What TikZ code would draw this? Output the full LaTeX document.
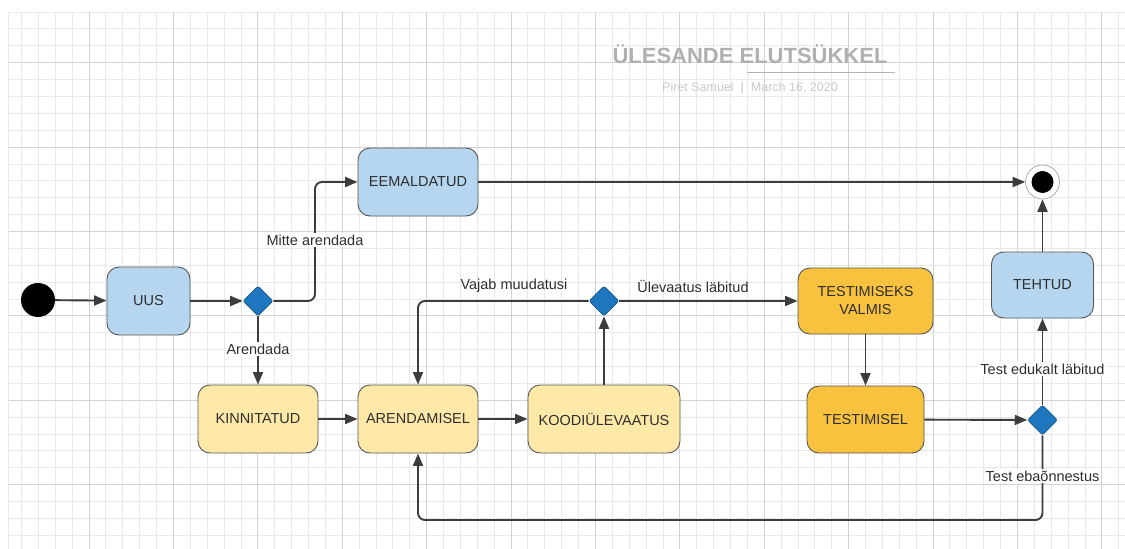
\documentclass[tikz,border=0pt]{standalone}
\usepackage{fontspec}
\setmainfont{Liberation Sans}
\usetikzlibrary{arrows.meta,shapes.geometric}

\definecolor{bluefill}{HTML}{B6D6F0}
\definecolor{yellowfill}{HTML}{FFE9A8}
\definecolor{orangefill}{HTML}{F8C23E}
\definecolor{decisionfill}{HTML}{1E76BE}
\definecolor{boxline}{HTML}{555555}
\definecolor{linkc}{HTML}{3C3C3C}
\definecolor{textc}{HTML}{2E2E2E}
\definecolor{gridminor}{HTML}{E8E8E8}
\definecolor{gridmajor}{HTML}{D2D2D2}

\tikzset{
  statebox/.style={draw=boxline, line width=0.9pt, rounded corners=12pt,
    minimum height=68pt, align=center, inner sep=0pt, text=textc,
    font=\fontsize{14.5}{18}\selectfont},
  bluestate/.style={statebox, fill=bluefill},
  yellowstate/.style={statebox, fill=yellowfill},
  orangestate/.style={statebox, fill=orangefill},
  choice/.style={diamond, fill=decisionfill, draw=decisionfill!75!black,
    line width=0.6pt, minimum width=30pt, minimum height=30pt, inner sep=0pt,
    rounded corners=2pt},
  link/.style={draw=linkc, line width=1.9pt, rounded corners=7pt,
    -{Triangle[length=12.5pt,width=10pt]}},
  guard/.style={text=textc, font=\fontsize{14.5}{17}\selectfont, inner sep=2pt},
  guardbg/.style={guard, fill=white},
}

\begin{document}
\begin{tikzpicture}[x=1pt, y=-1pt]
  \useasboundingbox (0,0) rectangle (1125,549);
  \fill[white] (0,0) rectangle (1125,549);

  % background grid
  \begin{scope}
    \clip (8,12) rectangle (1125,549);
    \draw[gridminor, line width=0.8pt]
      \foreach \i in {0,...,66} {({4.6+\i*16.88},12) -- ++(0,537)}
      \foreach \j in {0,...,32} {(8,{12+\j*16.88}) -- ++(1117,0)};
    \draw[gridmajor, line width=0.9pt]
      \foreach \i in {0,...,12} {({89+\i*84.4},12) -- ++(0,537)}
      \foreach \j in {0,...,5} {(8,{62.7+\j*84.4}) -- ++(1117,0)};
    \draw[gridminor, line width=0.8pt] (8,12) -- (8,549);
  \end{scope}

  % heading
  \node[anchor=base, text=gray!62, font=\bfseries\fontsize{22}{26}\selectfont]
    (title) at (750,63) {ÜLESANDE ELUTSÜKKEL};
  \coordinate (ulA) at (747,72.7);
  \coordinate (ulB) at (895,72.7);
  \draw[gray!60, line width=1.2pt] (ulA) -- (ulB);
  \node[anchor=base, text=gray!42, font=\fontsize{12.5}{15}\selectfont]
    (byline) at (750,91.5) {Piret Samuel~~|~~March 16, 2020};

  % states
  \node[circle, fill=black, minimum size=34pt, inner sep=0pt] (start) at (38,300) {};
  \node[bluestate, minimum width=83pt] (uus) at (148.5,301) {UUS};
  \node[choice] (d1) at (258,301) {};
  \node[bluestate, minimum width=120pt] (eem) at (418,182) {EEMALDATUD};
  \node[circle, draw=gray!70, line width=0.7pt, fill=white, minimum size=34pt,
    inner sep=0pt] (final) at (1042.5,182) {};
  \node[circle, fill=black, minimum size=22pt, inner sep=0pt] (finaldot) at (final) {};

  \node[yellowstate, minimum width=120pt] (kin) at (258,419) {KINNITATUD};
  \node[yellowstate, minimum width=120pt] (are) at (418,419) {ARENDAMISEL};
  \node[yellowstate, minimum width=152pt] (koo) at (604,419) {KOODIÜLEVAATUS};
  \node[choice] (d2) at (604,301) {};

  \node[orangestate, minimum width=135pt, minimum height=66pt] (tv) at (865.5,301)
    {TESTIMISEKS\\VALMIS};
  \node[orangestate, minimum width=117pt, minimum height=67pt] (tes) at (865.5,419.5)
    {TESTIMISEL};
  \node[choice] (d3) at (1042.5,420) {};
  \node[bluestate, minimum width=102pt, minimum height=66pt] (teh) at (1042.5,285)
    {TEHTUD};

  % bend points
  \coordinate (jog) at (315,240);
  \coordinate (back) at (1042.5,520);

  % transitions
  \draw[link] (start) -- (uus);
  \draw[link] (uus) -- (d1);
  \draw[link] (d1.east) -| (jog) |- (eem.west);
  \draw[link] (eem) -- (final);
  \draw[link] (d1) -- (kin);
  \draw[link] (kin) -- (are);
  \draw[link] (are) -- (koo);
  \draw[link] (koo) -- (d2);
  \draw[link] (d2.west) -| (are.north);
  \draw[link] (d2) -- (tv);
  \draw[link] (tv) -- (tes);
  \draw[link] (tes) -- (d3);
  \draw[link] (d3) -- (teh);
  \draw[link] (teh) -- (final);
  \draw[link] (d3.south) -- (back) -| (are.south);

  % guards
  \node[guardbg] (g1) at (jog) {Mitte arendada};
  \node[guardbg] (g2) at (258,349) {Arendada};
  \node[guard] (g3) at (514,286) {Vajab muudatusi};
  \node[guard] (g4) at (693,286) {Ülevaatus läbitud};
  \node[guardbg] (g5) at (1042.5,369) {Test edukalt läbitud};
  \node[guardbg] (g6) at (1042.5,476) {Test ebaõnnestus};
\end{tikzpicture}
\end{document}
